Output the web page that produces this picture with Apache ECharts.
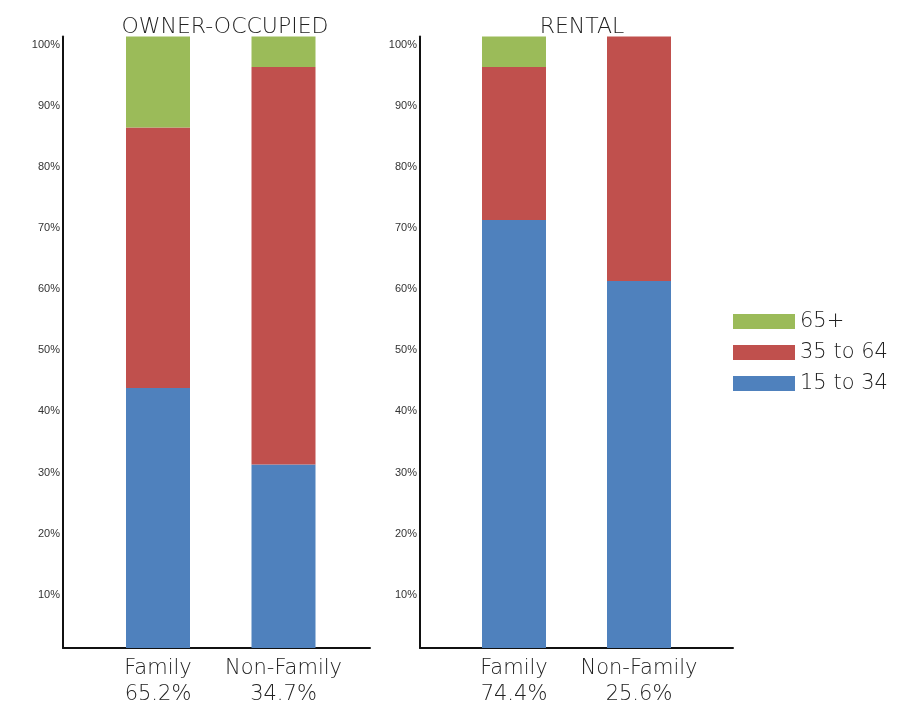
<!DOCTYPE html>
<html>
<head>
<meta charset="utf-8">
<script src="https://cdn.jsdelivr.net/npm/echarts@6/dist/echarts.min.js"></script>
<style>html,body{margin:0;padding:0;background:#fff;}#c{width:918px;height:701px;}</style>
</head>
<body>
<div id="c"></div>
<script>
var categories = ['Family', 'Non-Family'];
var ownerShare = ['65.2%', '34.7%'];
var rentalShare = ['74.4%', '25.6%'];
var seriesNames = ['15 to 34', '35 to 64', '65+'];
var owner15to34 = [42.5, 30];
var owner35to64 = [42.6, 65];
var owner65plus = [14.9, 5];
var rental15to34 = [70, 60];
var rental35to64 = [25, 40];
var rental65plus = [5, 0];
var yTicks = [0, 10, 20, 30, 40, 50, 60, 70, 80, 90, 100];

var colors = ['#4F81BD', '#C0504D', '#9BBB59'];
var FONT = 'DejaVu Sans, Open Sans, sans-serif';
var chart = echarts.init(document.getElementById('c'));

var TOP = 36.5, H = 611.5;
function yAxisFrame(idx) {
  return {
    type: 'value', gridIndex: idx, min: yTicks[0], max: yTicks[yTicks.length - 1], interval: 10,
    axisLine: {show: true, lineStyle: {color: '#111', width: 2}},
    axisTick: {show: false}, splitLine: {show: false},
    axisLabel: {
      fontFamily: 'Liberation Sans, Arial, sans-serif', fontSize: 11, color: '#333', margin: 3,
      verticalAlign: 'top', lineHeight: 16,
      formatter: function (v) { return v === 0 ? '' : v + '%'; }
    }
  };
}
function yAxisHidden(idx) {
  return {type: 'value', gridIndex: idx, min: 0, max: 100, show: false};
}
function xAxisFrame(idx) {
  return {
    type: 'value', gridIndex: idx, min: 0, max: 1,
    axisLine: {show: true, onZero: false, lineStyle: {color: '#111', width: 2}},
    axisTick: {show: false}, splitLine: {show: false}, axisLabel: {show: false}
  };
}
function xAxisCat(idx, shares) {
  return {
    type: 'category', gridIndex: idx, data: categories,
    axisLine: {show: false}, axisTick: {show: false},
    axisLabel: {
      interval: 0, hideOverlap: false,
      margin: 8, fontFamily: FONT, fontWeight: 200, fontSize: 21, color: '#222', lineHeight: 26,
      formatter: function (v, i) { return v + '\n' + shares[i]; }
    }
  };
}
function bar(name, data, xi, yi, stack, color) {
  return {
    name: name, type: 'bar', xAxisIndex: xi, yAxisIndex: yi, stack: stack, data: data,
    barWidth: 64, itemStyle: {color: color}, emphasis: {disabled: true}
  };
}
function grid(left, width) {
  return {left: left, top: TOP, width: width, height: H, outerBoundsMode: 'none', containLabel: false};
}

chart.setOption({
  animation: false,
  backgroundColor: '#fff',
  title: [
    {text: 'OWNER-OCCUPIED', left: 220, top: 11, textAlign: 'center',
     textStyle: {fontFamily: FONT, fontWeight: 200, fontSize: 22, color: '#222'}},
    {text: 'RENTAL', left: 577, top: 11, textAlign: 'center',
     textStyle: {fontFamily: FONT, fontWeight: 200, fontSize: 22, color: '#222'}}
  ],
  legend: {
    orient: 'vertical', left: 728, top: 306, itemWidth: 62, itemHeight: 15, itemGap: 10,
    data: [seriesNames[2], seriesNames[1], seriesNames[0]],
    icon: 'rect',
    textStyle: {fontFamily: FONT, fontWeight: 200, fontSize: 21, color: '#222'}
  },
  grid: [grid(63, 307), grid(95.25, 251), grid(420, 313), grid(451.5, 250)],
  xAxis: [xAxisFrame(0), xAxisCat(1, ownerShare), xAxisFrame(2), xAxisCat(3, rentalShare)],
  yAxis: [yAxisFrame(0), yAxisHidden(1), yAxisFrame(2), yAxisHidden(3)],
  series: [
    bar(seriesNames[0], owner15to34, 1, 1, 'owner', colors[0]),
    bar(seriesNames[1], owner35to64, 1, 1, 'owner', colors[1]),
    bar(seriesNames[2], owner65plus, 1, 1, 'owner', colors[2]),
    bar(seriesNames[0], rental15to34, 3, 3, 'rental', colors[0]),
    bar(seriesNames[1], rental35to64, 3, 3, 'rental', colors[1]),
    bar(seriesNames[2], rental65plus, 3, 3, 'rental', colors[2])
  ]
});
</script>
</body>
</html>
